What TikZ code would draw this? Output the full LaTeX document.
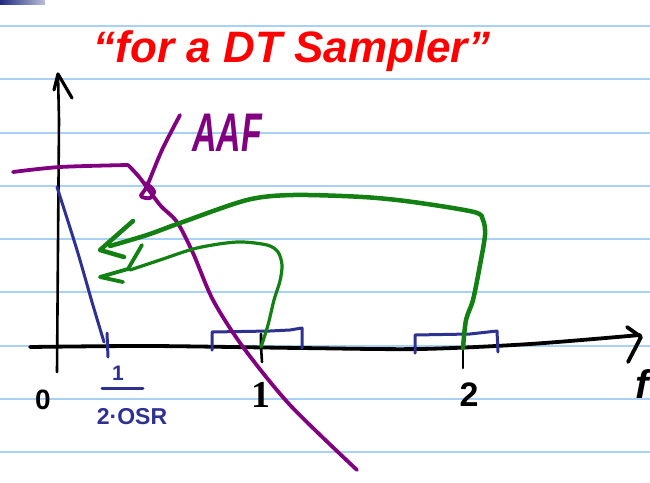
\documentclass[tikz,border=0pt]{standalone}
\usepackage{fontspec}
\usepackage{graphicx}
\setmainfont{Liberation Sans}
\newfontfamily\serifdigits{Liberation Serif}
\definecolor{ruleblue}{HTML}{A8D1F8}
\definecolor{penblue}{HTML}{2E3192}
\definecolor{penpurple}{HTML}{800080}
\definecolor{pengreen}{HTML}{128012}
\definecolor{penred}{HTML}{FF0000}
\definecolor{barnavy}{HTML}{1F2A80}
\begin{document}
\begin{tikzpicture}[x=1pt,y=-1pt,
  ruling/.style={ruleblue,line width=2pt},
  axisline/.style={black,line width=3.8pt,line cap=round,line join=round},
  blueink/.style={penblue,line width=3pt,line cap=round,line join=round},
  purpleink/.style={penpurple,line width=3.8pt,line cap=round,line join=round},
  greenthick/.style={pengreen,line width=4.5pt,line cap=round,line join=round},
  greenthin/.style={pengreen,line width=3.2pt,line cap=round,line join=round},
  digit/.style={black,inner sep=0pt,font=\fontsize{28}{28}\selectfont\bfseries},
  bluetext/.style={penblue,inner sep=0pt,font=\fontsize{23}{23}\selectfont\bfseries}]
\useasboundingbox (0,0) rectangle (650,482);
\fill[white] (0,0) rectangle (650,482);
% ruled paper
\foreach \yy in {25.5,79,132.5,186,239,292,345.5,399,452}
  \draw[ruling] (0,\yy) -- (650,\yy);
% top-left bar
\shade[left color=barnavy,right color=barnavy!30] (0,0) rectangle (45,4);
% title
\node[penred,inner sep=0pt,font=\fontsize{44}{48}\selectfont\bfseries\itshape] (title) at (292,51) {“for a DT Sampler”};
% axes
\coordinate (xs) at (30,347);
\coordinate (xe) at (640,335);
\coordinate (ys) at (57,372);
\coordinate (ye) at (58,74);
\draw[axisline] plot[smooth] coordinates {(xs) (150,346) (300,348) (420,349) (530,344) (xe)};
\draw[axisline] (627,327) -- (641,337) -- (628,362);
\draw[axisline,line width=2.6pt] (ys) -- (59,120) -- (ye);
\draw[axisline,line width=3.2pt] (54,90) -- (ye) -- (72,98);
% ticks
\coordinate (t1) at (261,347);
\coordinate (t2) at (463,348);
\draw[axisline,line width=2.6pt] (261,334) -- (t1) -- (262,362);
\draw[axisline,line width=2.6pt] (t2) -- (463,368);
\node[digit] (zero) at (43,400) {0};
\node[digit,font=\fontsize{38}{38}\selectfont\bfseries\serifdigits] (one) at (261,395) {1};
\node[digit,font=\fontsize{34}{34}\selectfont\bfseries] (two) at (469,395) {2};
\node[black,inner sep=0pt,anchor=east,font=\fontsize{40}{40}\selectfont\bfseries\itshape] (fl) at (649,384) {f};
% blue signal spectrum
\coordinate (bt) at (57,187);
\coordinate (bb) at (104,342);
\draw[blueink] plot[smooth] coordinates {(bt) (77,250) (92,302) (bb)};
\draw[blueink] (107,333) -- (108,357);
\node[bluetext,font=\fontsize{21}{21}\selectfont\bfseries] (num) at (118,373) {1};
\draw[blueink] (102,388) -- (143,388);
\node[bluetext] (den) at (132,417) {2·OSR};
% blue brackets (images)
\draw[blueink] (212,350) -- (212,332) -- (270,331) -- (290,330) -- (302,328) -- (302,348);
\draw[blueink] (415,353) -- (415,335) -- (470,334) -- (497,331) -- (498,352);
% purple anti-alias filter
\draw[purpleink] plot[smooth] coordinates {(13,172) (60,167) (128,165)};
\draw[purpleink] plot[smooth] coordinates {(128,165) (140,178) (160,205) (177,222) (193,253) (213,300) (243,347) (290,405) (357,470)};
\draw[purpleink] plot[smooth] coordinates {(180,115) (162,150) (147,186) (141,196) (150,198) (154,191) (146,183)};
\node[penpurple,inner sep=0pt,font=\fontsize{34}{34}\selectfont\bfseries\itshape] (aaf) at (227,133) {\scalebox{1}[1.6]{AAF}};
% green folding arrows
\coordinate (g2tip) at (100,250);
\coordinate (g1tip) at (100,277);
\draw[greenthick] plot[smooth] coordinates {(t2) (466,320) (473,300) (480,265) (485,235) (483,220) (474,212) (413,202) (363,197) (293,195) (247,200) (180,223) (147,235) (110,246)};
\draw[greenthick] (133,221) -- (g2tip) -- (124,257);
\draw[greenthin] plot[smooth] coordinates {(t1) (268,325) (274,300) (280,281) (282,265) (278,252) (267,245) (237,242) (197,248) (160,260) (130,270)};
\draw[greenthin,line width=3.8pt] (142,245) -- (128,269) -- (g1tip) -- (123,282);
\end{tikzpicture}
\end{document}
